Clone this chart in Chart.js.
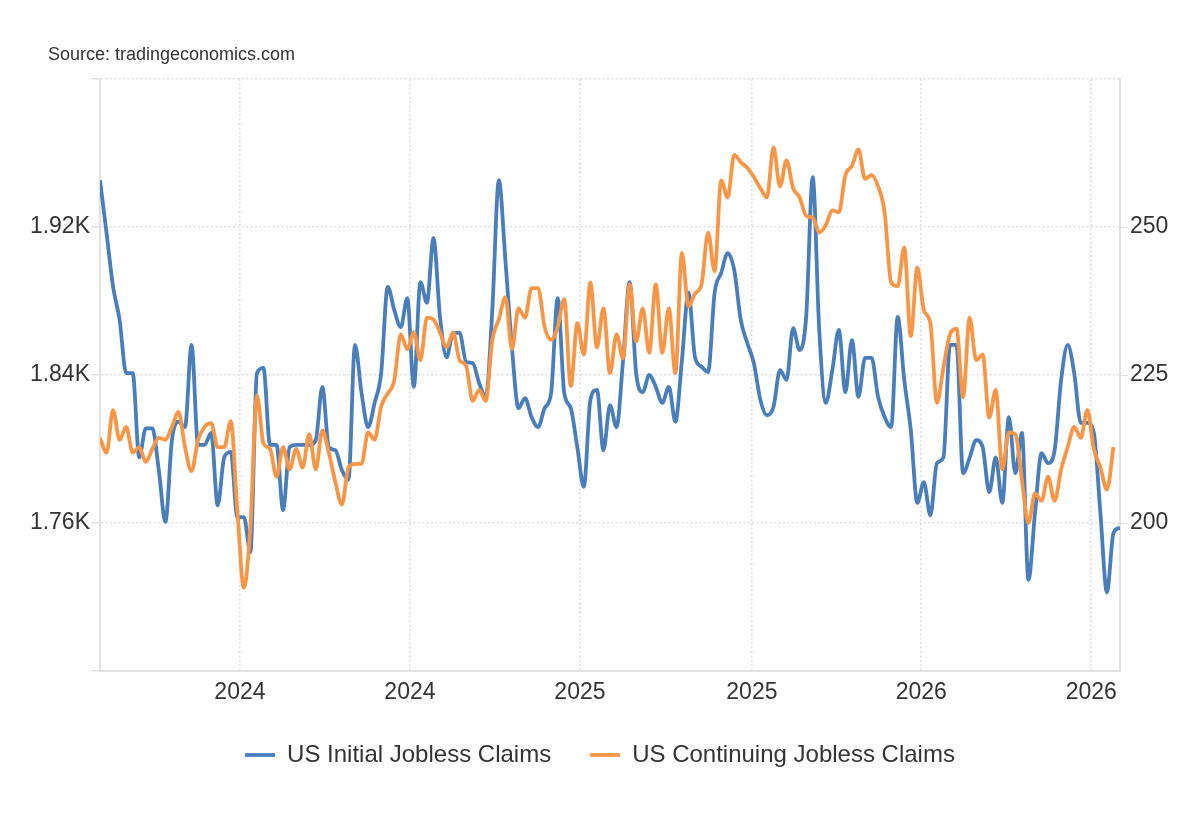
<!DOCTYPE html>
<html>
<head>
<meta charset="utf-8">
<script src="https://cdn.jsdelivr.net/npm/chart.js@4.4.0/dist/chart.umd.min.js"></script>
<style>
  html, body { margin: 0; padding: 0; background: #ffffff; }
  #wrap { position: relative; width: 1200px; height: 820px; }
  #c { position: absolute; left: 0; top: 0; }
  #source { position: absolute; left: 48px; top: 45px; font: 18px "Liberation Sans", Arial, Helvetica, sans-serif; line-height: 18px; color: #333; white-space: nowrap; }
</style>
</head>
<body>
<div id="wrap">
  <canvas id="c" width="1200" height="820"></canvas>
  <div id="source">Source: tradingeconomics.com</div>
</div>
<script>
// ---- data ----
const seriesNames = ["US Initial Jobless Claims", "US Continuing Jobless Claims"];

// US Initial Jobless Claims (thousands), weekly, right axis
const initialClaims = [
  257.9, 249.0, 239.9, 234.3, 225.3, 225.3, 211.1, 216.0, 216.0, 208.9,
  200.2, 214.0, 217.1, 216.2, 230.1, 213.2, 213.2, 215.2, 203.0, 211.1,
  212.0, 201.0, 201.0, 195.1, 225.3, 226.2, 213.2, 213.2, 202.2, 212.8,
  213.2, 213.2, 213.2, 214.0, 223.0, 212.8, 212.3, 208.9, 207.3, 230.1,
  222.0, 216.2, 220.3, 225.3, 239.9, 236.0, 233.1, 238.0, 223.0, 240.7,
  237.2, 248.1, 234.8, 228.0, 232.1, 232.1, 227.2, 227.0, 223.6, 221.3,
  236.0, 257.9, 244.4, 229.7, 219.4, 221.1, 217.9, 216.2, 219.4, 222.0,
  238.0, 222.0, 219.4, 212.8, 206.1, 220.8, 222.5, 212.3, 219.9, 216.2,
  227.5, 240.7, 225.3, 222.1, 225.0, 223.0, 220.3, 223.0, 217.1, 227.5,
  238.9, 228.0, 226.4, 225.5, 238.9, 242.2, 245.6, 242.7, 234.3, 230.4,
  227.0, 220.8, 218.2, 219.6, 225.8, 224.2, 232.9, 229.2, 234.8, 258.4,
  232.6, 220.3, 225.8, 232.6, 222.1, 230.9, 221.3, 227.9, 227.9, 221.3,
  217.9, 216.2, 234.8, 224.2, 215.7, 203.4, 206.9, 201.3, 210.1, 211.1,
  230.1, 230.1, 208.4, 211.0, 214.0, 212.8, 205.2, 211.1, 203.4, 217.9,
  208.4, 215.2, 190.4, 201.7, 211.8, 210.1, 212.3, 224.2, 230.1, 225.3,
  216.9, 216.9, 215.2, 201.7, 188.3, 198.3, 199.2
];

// US Continuing Jobless Claims (thousands), weekly, left axis
const continuingClaims = [
  1806, 1798, 1821, 1805, 1812, 1798, 1801, 1793, 1800, 1806,
  1805, 1812, 1820, 1801, 1788, 1805, 1812, 1814, 1801, 1801,
  1815, 1767, 1725, 1758, 1829, 1803, 1800, 1785, 1801, 1789,
  1800, 1790, 1808, 1789, 1810, 1798, 1782, 1770, 1790, 1792,
  1792, 1809, 1805, 1823, 1830, 1837, 1862, 1854, 1863, 1848,
  1871, 1870, 1863, 1855, 1863, 1848, 1845, 1826, 1832, 1826,
  1859, 1870, 1882, 1854, 1876, 1871, 1887, 1887, 1866, 1859,
  1866, 1881, 1834, 1868, 1851, 1890, 1855, 1876, 1841, 1862,
  1849, 1889, 1858, 1876, 1852, 1889, 1852, 1876, 1841, 1906,
  1877, 1884, 1889, 1917, 1896, 1945, 1936, 1959, 1955, 1952,
  1947, 1941, 1936, 1963, 1942, 1956, 1941, 1936, 1926, 1925,
  1917, 1921, 1929, 1928, 1948, 1953, 1962, 1946, 1948, 1942,
  1928, 1890, 1888, 1909, 1861, 1898, 1875, 1868, 1825, 1844,
  1862, 1865, 1828, 1871, 1848, 1851, 1817, 1832, 1789, 1809,
  1808, 1783, 1760, 1776, 1772, 1785, 1772, 1789, 1801, 1812,
  1806, 1821, 1800, 1790, 1778, 1801, null
];

// x axis: week index of each label, and the label text
const xTickWeeks = [21.4, 47.4, 73.4, 99.7, 125.6, 151.6];
const xTickLabels = ["2024", "2024", "2025", "2025", "2026", "2026"];

// left axis (continuing claims)
const leftTickValues = [1680, 1760, 1840, 1920, 2000];
const leftTickLabels = ["", "1.76K", "1.84K", "1.92K", ""];

// right axis (initial claims)
const rightTickValues = [200, 225, 250];
const rightTickLabels = ["200", "225", "250"];

// ---- chart ----
const FONT = '"Liberation Sans", Arial, Helvetica, sans-serif';
Chart.defaults.font.family = FONT;
Chart.defaults.color = '#333333';

const BLUE = '#4a7ebb';
const ORANGE = '#f79646';
const GRID = '#dedede';
const AXIS = '#e2e2e2';

const toPoints = arr => arr.map((v, i) => ({ x: i, y: v }));

new Chart(document.getElementById('c'), {
  type: 'line',
  data: {
    datasets: [
      {
        label: seriesNames[0],
        data: toPoints(initialClaims),
        yAxisID: 'y1',
        borderColor: BLUE,
        backgroundColor: BLUE,
        borderWidth: 3.8,
        pointRadius: 0,
        cubicInterpolationMode: 'monotone',
        order: 2
      },
      {
        label: seriesNames[1],
        data: toPoints(continuingClaims),
        yAxisID: 'y',
        borderColor: ORANGE,
        backgroundColor: ORANGE,
        borderWidth: 3.8,
        pointRadius: 0,
        cubicInterpolationMode: 'monotone',
        spanGaps: false,
        order: 1
      }
    ]
  },
  options: {
    responsive: false,
    animation: false,
    devicePixelRatio: 1,
    layout: { padding: { top: 79, bottom: 43, left: 0, right: 0 } },
    plugins: {
      legend: {
        position: 'bottom',
        labels: {
          usePointStyle: true,
          pointStyle: 'line',
          pointStyleWidth: 30,
          font: { size: 24, family: FONT },
          color: '#333333',
          padding: 39,
          sort: (a, b) => a.datasetIndex - b.datasetIndex
        }
      },
      tooltip: { enabled: false }
    },
    scales: {
      x: {
        type: 'linear',
        min: 0,
        max: initialClaims.length - 1,
        afterBuildTicks: s => { s.ticks = xTickWeeks.map(v => ({ value: v })); },
        afterFit: s => { s.height = 33; },
        ticks: {
          autoSkip: false,
          maxRotation: 0,
          padding: 8,
          font: { size: 23, family: FONT },
          color: '#333333',
          callback: (v, i) => xTickLabels[i]
        },
        grid: { color: GRID, lineWidth: 1.6, drawTicks: false },
        border: { display: true, color: AXIS, width: 2, dash: [2, 2.4] }
      },
      y: {
        position: 'left',
        min: leftTickValues[0],
        max: leftTickValues[leftTickValues.length - 1],
        afterBuildTicks: s => { s.ticks = leftTickValues.map(v => ({ value: v })); },
        afterFit: s => { s.width = 100; },
        ticks: {
          padding: 2,
          font: { size: 23, family: FONT },
          color: '#333333',
          callback: (v, i) => leftTickLabels[i]
        },
        grid: { color: GRID, lineWidth: 1.6, drawTicks: true, tickLength: 8, tickColor: AXIS },
        border: { display: true, color: AXIS, width: 2, dash: [2, 2.4] }
      },
      y1: {
        position: 'right',
        min: 175,
        max: 275,
        afterBuildTicks: s => { s.ticks = rightTickValues.map(v => ({ value: v })); },
        afterFit: s => { s.width = 80; },
        ticks: {
          padding: 2,
          font: { size: 23, family: FONT },
          color: '#333333',
          callback: (v, i) => rightTickLabels[i]
        },
        grid: { drawOnChartArea: false, drawTicks: true, tickLength: 8, tickColor: AXIS },
        border: { display: true, color: AXIS, width: 2 }
      }
    }
  }
});
</script>
</body>
</html>
